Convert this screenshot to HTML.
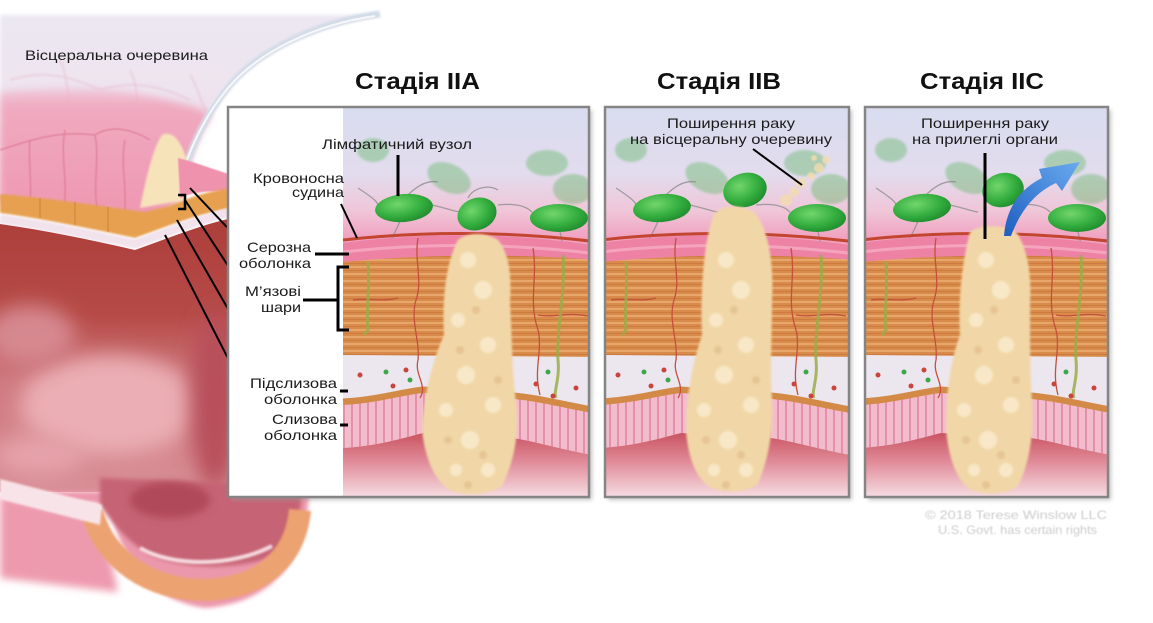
<!DOCTYPE html>
<html><head><meta charset="utf-8">
<style>
html,body{margin:0;padding:0;background:#fff;}
svg{display:block;}
text{font-family:"Liberation Sans",Arial,sans-serif;}
</style></head><body>
<svg width="1153" height="623" viewBox="0 0 1153 623" xmlns="http://www.w3.org/2000/svg">
<defs>
 <filter id="b1" x="-20%" y="-20%" width="140%" height="140%"><feGaussianBlur stdDeviation="1"/></filter>
 <filter id="b2" x="-20%" y="-20%" width="140%" height="140%"><feGaussianBlur stdDeviation="2"/></filter>
 <filter id="b4" x="-30%" y="-30%" width="160%" height="160%"><feGaussianBlur stdDeviation="4"/></filter>
 <filter id="b10" x="-50%" y="-50%" width="200%" height="200%"><feGaussianBlur stdDeviation="10"/></filter>
 <filter id="b05"><feGaussianBlur stdDeviation="0.6"/></filter>
 <linearGradient id="sky" x1="0" y1="108" x2="0" y2="240" gradientUnits="userSpaceOnUse">
  <stop offset="0" stop-color="#d9dcef"/>
  <stop offset="0.5" stop-color="#e2dcee"/>
  <stop offset="0.78" stop-color="#efc6d8"/>
  <stop offset="1" stop-color="#f19fbe"/>
 </linearGradient>
 <linearGradient id="lumen" x1="0" y1="432" x2="0" y2="497" gradientUnits="userSpaceOnUse">
  <stop offset="0" stop-color="#c9525f"/>
  <stop offset="0.45" stop-color="#e08a98"/>
  <stop offset="1" stop-color="#f6dde3"/>
 </linearGradient>
 <pattern id="mus" width="240" height="7" patternUnits="userSpaceOnUse">
  <rect width="240" height="7" fill="#d98b4b"/>
  <rect y="0" width="240" height="2" fill="#e7a76b"/>
  <rect y="4" width="240" height="1" fill="#cc7c3f"/>
 </pattern>
 <pattern id="muc" width="8" height="80" patternUnits="userSpaceOnUse">
  <rect width="8" height="80" fill="#f3bccd"/>
  <rect x="3" width="2" height="80" fill="#e391ab"/>
 </pattern>
 <radialGradient id="node" cx="0.4" cy="0.35" r="0.7">
  <stop offset="0" stop-color="#72d66c"/>
  <stop offset="0.6" stop-color="#34ae3f"/>
  <stop offset="1" stop-color="#1f8a2c"/>
 </radialGradient>
 <linearGradient id="mem" x1="0" y1="15" x2="0" y2="200" gradientUnits="userSpaceOnUse">
  <stop offset="0" stop-color="#ebe7f2"/>
  <stop offset="0.4" stop-color="#eee4ef"/>
  <stop offset="0.85" stop-color="#f0cfdf"/>
 </linearGradient>
 <linearGradient id="pinkg" x1="0" y1="80" x2="0" y2="210" gradientUnits="userSpaceOnUse">
  <stop offset="0" stop-color="#f0c4d6" stop-opacity="0.5"/>
  <stop offset="0.2" stop-color="#f0aac0"/>
  <stop offset="1" stop-color="#ef98b3"/>
 </linearGradient>
 <linearGradient id="inner" x1="0" y1="220" x2="0" y2="490" gradientUnits="userSpaceOnUse">
  <stop offset="0" stop-color="#ad3f3b"/>
  <stop offset="0.35" stop-color="#b64a46"/>
  <stop offset="0.6" stop-color="#cf7a80"/>
  <stop offset="1" stop-color="#d88e96"/>
 </linearGradient>
 <linearGradient id="arrow" x1="1005" y1="236" x2="1080" y2="162" gradientUnits="userSpaceOnUse">
  <stop offset="0" stop-color="#1f5fc0"/>
  <stop offset="1" stop-color="#6aaaf0"/>
 </linearGradient>
 <clipPath id="cA"><rect x="229" y="108" width="360" height="389"/></clipPath>
 <clipPath id="cB"><rect x="606" y="108" width="242" height="389"/></clipPath>
 <clipPath id="cC"><rect x="866" y="108" width="241" height="389"/></clipPath>

 <g id="base">
  <rect x="-5" y="105" width="255" height="140" fill="url(#sky)"/>
  <g opacity="0.35" filter="url(#b1)" fill="#4cb04c">
   <ellipse cx="101" cy="178" rx="23" ry="14" transform="rotate(25 101 178)"/>
   <ellipse cx="199" cy="163" rx="21" ry="13"/>
   <ellipse cx="225" cy="189" rx="20" ry="15"/>
   <ellipse cx="25" cy="150" rx="16" ry="12"/>
  </g>
  <g stroke="#8e8e8e" stroke-width="1.3" fill="none" opacity="0.8">
   <path d="M10,188 C25,198 32,203 30,208"/>
   <path d="M52,221 C48,232 40,244 34,258"/>
   <path d="M84,205 C98,208 108,212 112,212"/>
   <path d="M212,232 C215,245 218,255 222,265"/>
   <path d="M150,205 C168,203 178,206 184,212"/>
   <path d="M60,195 C70,185 80,180 90,182"/>
   <path d="M120,198 C125,188 140,184 150,190"/>
  </g>
  <path d="M-5,243 Q120,226 250,246 L250,262 Q120,250 -5,263 Z" fill="#ee82a5"/>
  <path d="M-5,240 Q120,226 250,242" stroke="#c2452f" stroke-width="3" fill="none"/>
  <path d="M-5,252 Q120,238 250,254" stroke="#f7b4c8" stroke-width="3" fill="none" opacity=".7"/>
  <path d="M-5,262 Q120,250 250,260 L250,358 L-5,356 Z" fill="url(#mus)"/>
  <path d="M-5,355 L250,357 L250,411 C215,405 190,398 165,396 L75,390 C55,392 30,400 -5,402 Z" fill="#ece6ef"/>
  <path d="M-5,402 C30,400 55,392 75,390 L165,396 C190,398 215,405 250,411" stroke="#d28a46" stroke-width="7" fill="none"/>
  <path d="M-5,405 C30,403 55,395 75,393 L165,399 C190,401 215,408 250,414 L250,456 C215,450 190,442 165,438 L75,433 C55,438 30,446 -5,448 Z" fill="url(#muc)"/>
  <path d="M-5,448 C30,446 55,438 75,433 L165,438 C190,442 215,450 250,456 L250,500 L-5,500 Z" fill="url(#lumen)"/>
  <g stroke="#c4503c" stroke-width="1.3" fill="none">
   <path d="M70,238 C66,260 75,280 68,300 C62,320 72,340 70,360 C66,375 80,385 72,398"/>
   <path d="M185,248 C190,280 180,300 190,330 C195,350 185,370 192,395"/>
   <path d="M5,300 C20,298 35,302 50,298"/>
   <path d="M190,315 C205,318 220,312 240,316"/>
  </g>
  <g stroke="#9aab48" stroke-width="3" fill="none" opacity="0.85">
   <path d="M20,262 C22,290 18,310 20,330 L16,335"/>
   <path d="M215,255 C218,290 208,330 210,360 C212,380 205,392 208,398"/>
  </g>
  <g fill="#c9443c">
   <circle cx="12" cy="375" r="2.5"/><circle cx="45" cy="386" r="2.5"/><circle cx="58" cy="370" r="2.5"/>
   <circle cx="205" cy="396" r="2.5"/><circle cx="188" cy="384" r="2.5"/><circle cx="228" cy="388" r="2.5"/>
  </g>
  <g fill="#3da848">
   <circle cx="38" cy="372" r="2.5"/><circle cx="62" cy="380" r="2.5"/><circle cx="200" cy="372" r="2.5"/>
  </g>
  <ellipse cx="56" cy="208" rx="29" ry="14" fill="url(#node)" transform="rotate(-5 56 208)"/>
  <ellipse cx="211" cy="218" rx="29" ry="14" fill="url(#node)"/>
 </g>

 <g id="spots" filter="url(#b1)">
  <circle cx="120" cy="260" r="8" fill="#f8e8c8"/>
  <circle cx="135" cy="290" r="9" fill="#f8e8c8"/>
  <circle cx="110" cy="320" r="7" fill="#f8e8c8"/>
  <circle cx="140" cy="345" r="8" fill="#f8e8c8"/>
  <circle cx="118" cy="375" r="9" fill="#f8e8c8"/>
  <circle cx="98" cy="410" r="7" fill="#f8e8c8"/>
  <circle cx="145" cy="405" r="8" fill="#f8e8c8"/>
  <circle cx="122" cy="440" r="9" fill="#f8e8c8"/>
  <circle cx="108" cy="470" r="6" fill="#f8e8c8"/>
  <circle cx="140" cy="470" r="7" fill="#f8e8c8"/>
  <circle cx="128" cy="310" r="4" fill="#e6c494"/>
  <circle cx="112" cy="350" r="4" fill="#e6c494"/>
  <circle cx="150" cy="380" r="4" fill="#e6c494"/>
  <circle cx="100" cy="440" r="4" fill="#e6c494"/>
  <circle cx="135" cy="455" r="4" fill="#e6c494"/>
  <circle cx="120" cy="485" r="4" fill="#e6c494"/>
 </g>
</defs>

<rect width="1153" height="623" fill="#fff"/>

<!-- LEFT COLON -->
<g>
 <path d="M0,15 L380,15 C330,22 270,45 235,78 C205,108 188,145 176,195 L0,200 Z" fill="url(#mem)" filter="url(#b2)"/>
 <g stroke="#e6b8cc" stroke-width="1.5" fill="none" opacity="0.6" filter="url(#b1)">
  <path d="M10,80 C40,70 70,75 100,90 C130,80 160,85 190,100"/>
  <path d="M60,60 C70,80 65,100 75,120"/>
  <path d="M130,70 C140,90 135,110 145,125"/>
  <path d="M190,75 C200,90 200,105 210,115"/>
 </g>
 <path d="M0,92 C60,86 120,88 160,98 C185,104 205,110 212,115 C200,130 192,150 186,175 L176,205 L140,225 L0,205 Z" fill="url(#pinkg)" filter="url(#b4)"/>
 <path d="M380,14 C320,22 262,48 230,85 C205,115 190,150 178,192" stroke="#d3dbe7" stroke-width="7" fill="none" filter="url(#b1)"/>
 <path d="M375,16 C318,24 260,50 228,88 C203,118 188,152 176,192" stroke="#ffffff" stroke-width="2" fill="none" opacity=".8"/>
 <g stroke="#d9708c" stroke-width="1.5" fill="none" opacity="0.6" filter="url(#b05)">
  <path d="M30,140 C28,160 32,180 30,205"/>
  <path d="M65,130 C60,155 68,180 64,208"/>
  <path d="M95,135 C100,160 92,185 98,212"/>
  <path d="M125,140 C120,165 128,190 124,218"/>
  <path d="M0,150 C30,140 60,130 95,135 C110,125 130,128 150,140"/>
 </g>
 <path d="M140,208 C146,180 152,150 162,135 C172,130 182,140 188,165 L185,200 Z" fill="#f7e3ba" filter="url(#b1)"/>
 <path d="M178,158 C195,162 215,170 232,175 L232,192 C212,190 192,192 180,198 Z" fill="#ef92ad" filter="url(#b05)"/>
 <path d="M0,194 C50,198 100,206 145,212 L172,205 C195,195 215,190 232,188 L232,208 C210,212 190,218 168,226 L135,238 C95,230 50,220 0,213 Z" fill="#e6a04f" filter="url(#b1)"/>
 <g stroke="#d2883a" stroke-width="2" opacity=".6">
  <line x1="40" y1="198" x2="40" y2="218"/><line x1="75" y1="202" x2="75" y2="225"/><line x1="108" y1="207" x2="108" y2="232"/>
 </g>
 <path d="M0,219 C50,226 95,236 135,244 L168,232 C190,224 210,217 232,212" stroke="#f1e2ec" stroke-width="9" fill="none" filter="url(#b1)"/>
 <path d="M0,224 C50,231 95,241 135,250 L168,238 C190,230 210,223 232,218 L310,218 L310,492 L0,492 Z" fill="url(#inner)"/>
 <ellipse cx="110" cy="405" rx="90" ry="50" fill="#eaaeb4" filter="url(#b10)"/>
 <ellipse cx="30" cy="335" rx="45" ry="30" fill="#d68890" filter="url(#b10)"/>
 <ellipse cx="215" cy="400" rx="25" ry="90" fill="#b8505a" filter="url(#b10)"/>
 <ellipse cx="40" cy="455" rx="45" ry="20" fill="#e6a2aa" filter="url(#b10)"/>
 <!-- bottom -->
 <path d="M0,492 L110,505 C120,560 150,600 205,608 C260,604 300,575 308,505 L310,490 Z" fill="#ec98ac" filter="url(#b2)"/>
 <path d="M0,495 L102,518 L118,592 L0,578 Z" fill="#ee9aae" filter="url(#b4)"/>
 <path d="M100,478 L302,486 C302,520 292,548 262,560 C230,570 180,568 150,555 C125,540 110,520 100,505 Z" fill="#c66474" filter="url(#b2)"/>
 <ellipse cx="170" cy="500" rx="40" ry="18" fill="#b04a5a" filter="url(#b4)"/>
 <path d="M92,512 C105,560 150,590 205,590 C260,588 295,560 300,510" stroke="#eda271" stroke-width="22" fill="none" filter="url(#b1)"/>
 <path d="M140,548 C170,566 230,568 272,546" stroke="#f6dce0" stroke-width="4" fill="none" filter="url(#b1)"/>
 <path d="M0,479 L102,505 L100,525 L0,499 Z" fill="#f8e4e8" filter="url(#b1)"/>
</g>

<!-- leader lines from colon -->
<g stroke="#000" stroke-width="2" fill="none">
 <line x1="190" y1="188" x2="240" y2="241"/>
 <line x1="185" y1="200" x2="242" y2="287"/>
 <line x1="177" y1="220" x2="263" y2="370"/>
 <line x1="165" y1="235" x2="261" y2="423"/>
 <polyline points="178,195 185,195 185,209 178,209" stroke-width="2.5"/>
</g>

<!-- panel shadows -->
<g fill="#9a9a9a" opacity=".6" filter="url(#b2)">
 <rect x="231" y="110" width="361" height="390"/>
 <rect x="608" y="110" width="244" height="390"/>
 <rect x="868" y="110" width="243" height="390"/>
</g>

<!-- PANEL A -->
<rect x="228" y="107" width="361" height="390" fill="#fff"/>
<g clip-path="url(#cA)">
 <g transform="translate(348,0)">
  <use href="#base"/>
  <ellipse cx="129" cy="214" rx="20" ry="16" fill="url(#node)" transform="rotate(-20 129 214)"/>
  <path d="M110,240 C98,262 94,300 96,335 C84,362 76,395 74,428 C76,458 88,484 104,491 C122,497 142,494 154,486 C166,462 172,432 168,402 C164,372 164,336 162,302 C164,272 160,252 150,240 C138,232 120,232 110,240 Z" fill="#f1d7a7" filter="url(#b1)"/>
  <use href="#spots"/>
 </g>
</g>
<rect x="228" y="107" width="361" height="390" fill="none" stroke="#858585" stroke-width="2.5"/>

<!-- PANEL B -->
<g clip-path="url(#cB)">
 <g transform="translate(606,0)">
  <use href="#base"/>
  <ellipse cx="139" cy="190" rx="22" ry="17" fill="url(#node)" transform="rotate(-15 139 190)"/>
  <path d="M108,214 C98,240 94,290 96,335 C86,365 80,398 80,430 C82,460 92,482 106,488 C124,494 142,492 152,484 C162,460 168,430 166,400 C164,370 166,332 166,300 C168,262 162,230 150,214 C138,204 118,204 108,214 Z" fill="#f1d7a7" filter="url(#b1)"/>
  <use href="#spots"/>
  <g fill="#f3dcae" opacity=".8" filter="url(#b05)">
   <circle cx="180" cy="200" r="6"/><circle cx="188" cy="192" r="5"/><circle cx="195" cy="183" r="5"/>
   <circle cx="205" cy="176" r="4"/><circle cx="213" cy="168" r="5"/><circle cx="220" cy="160" r="4"/><circle cx="208" cy="158" r="3"/>
  </g>
 </g>
</g>
<rect x="605" y="107" width="244" height="390" fill="none" stroke="#858585" stroke-width="2.5"/>

<!-- PANEL C -->
<g clip-path="url(#cC)">
 <g transform="translate(866,0)">
  <use href="#base"/>
  <ellipse cx="137" cy="190" rx="21" ry="17" fill="url(#node)" transform="rotate(-15 137 190)"/>
  <path d="M104,232 C96,262 92,300 94,335 C84,362 80,395 80,428 C82,458 92,484 106,490 C122,496 142,494 152,486 C164,462 168,432 166,402 C164,372 164,336 164,302 C166,272 160,245 150,232 C138,224 114,224 104,232 Z" fill="#f1d7a7" filter="url(#b1)"/>
  <use href="#spots"/>
 </g>
</g>
<rect x="865" y="107" width="243" height="390" fill="none" stroke="#858585" stroke-width="2.5"/>

<!-- blue arrow -->
<path d="M1004,236 C1006,210 1018,190 1042,178 L1039,169 L1080,162 L1062,191 L1056,183 C1034,193 1020,212 1011,236 Z" fill="url(#arrow)"/>

<!-- panel leader lines -->
<g stroke="#000" fill="none">
 <line x1="398" y1="155" x2="398" y2="196" stroke-width="3"/>
 <line x1="341" y1="204" x2="357" y2="238" stroke-width="2"/>
 <line x1="315" y1="254" x2="349" y2="254" stroke-width="3"/>
 <line x1="303" y1="300" x2="338" y2="300" stroke-width="3"/>
 <polyline points="349,267 338,267 338,330 349,330" stroke-width="3"/>
 <line x1="340" y1="391" x2="348" y2="391" stroke-width="3"/>
 <line x1="340" y1="425" x2="348" y2="425" stroke-width="3"/>
 <line x1="753" y1="149" x2="802" y2="185" stroke-width="2"/>
 <line x1="985" y1="153" x2="985" y2="239" stroke-width="3"/>
</g>

<!-- text -->
<g fill="#1a1a1a" font-size="14">
 <text x="25" y="60" textLength="183" lengthAdjust="spacingAndGlyphs">Вісцеральна очеревина</text>
 <text x="322" y="149" textLength="150" lengthAdjust="spacingAndGlyphs">Лімфатичний вузол</text>
 <text x="253" y="183" textLength="91" lengthAdjust="spacingAndGlyphs">Кровоносна</text>
 <text x="292" y="197" textLength="52" lengthAdjust="spacingAndGlyphs">судина</text>
 <text x="247" y="252" textLength="64" lengthAdjust="spacingAndGlyphs">Серозна</text>
 <text x="239" y="268" textLength="72" lengthAdjust="spacingAndGlyphs">оболонка</text>
 <text x="245" y="296" textLength="56" lengthAdjust="spacingAndGlyphs">М’язові</text>
 <text x="261" y="312" textLength="40" lengthAdjust="spacingAndGlyphs">шари</text>
 <text x="250" y="388" textLength="87" lengthAdjust="spacingAndGlyphs">Підслизова</text>
 <text x="264" y="404" textLength="73" lengthAdjust="spacingAndGlyphs">оболонка</text>
 <text x="272" y="424" textLength="65" lengthAdjust="spacingAndGlyphs">Слизова</text>
 <text x="264" y="440" textLength="73" lengthAdjust="spacingAndGlyphs">оболонка</text>
 <text x="667" y="128" textLength="128" lengthAdjust="spacingAndGlyphs">Поширення раку</text>
 <text x="630" y="144" textLength="202" lengthAdjust="spacingAndGlyphs">на вісцеральну очеревину</text>
 <text x="921" y="128" textLength="128" lengthAdjust="spacingAndGlyphs">Поширення раку</text>
 <text x="912" y="144" textLength="146" lengthAdjust="spacingAndGlyphs">на прилеглі органи</text>
</g>
<g fill="#111" font-size="23" font-weight="bold">
 <text x="355" y="89" textLength="125" lengthAdjust="spacingAndGlyphs">Стадія IIA</text>
 <text x="657" y="89" textLength="124" lengthAdjust="spacingAndGlyphs">Стадія IIB</text>
 <text x="920" y="89" textLength="124" lengthAdjust="spacingAndGlyphs">Стадія IIC</text>
</g>
<g fill="#cccccc" font-size="12" filter="url(#b05)">
 <text x="925" y="519" textLength="182" lengthAdjust="spacingAndGlyphs">© 2018 Terese Winslow LLC</text>
 <text x="938" y="534" textLength="159" lengthAdjust="spacingAndGlyphs">U.S. Govt. has certain rights</text>
</g>
</svg>
</body></html>
